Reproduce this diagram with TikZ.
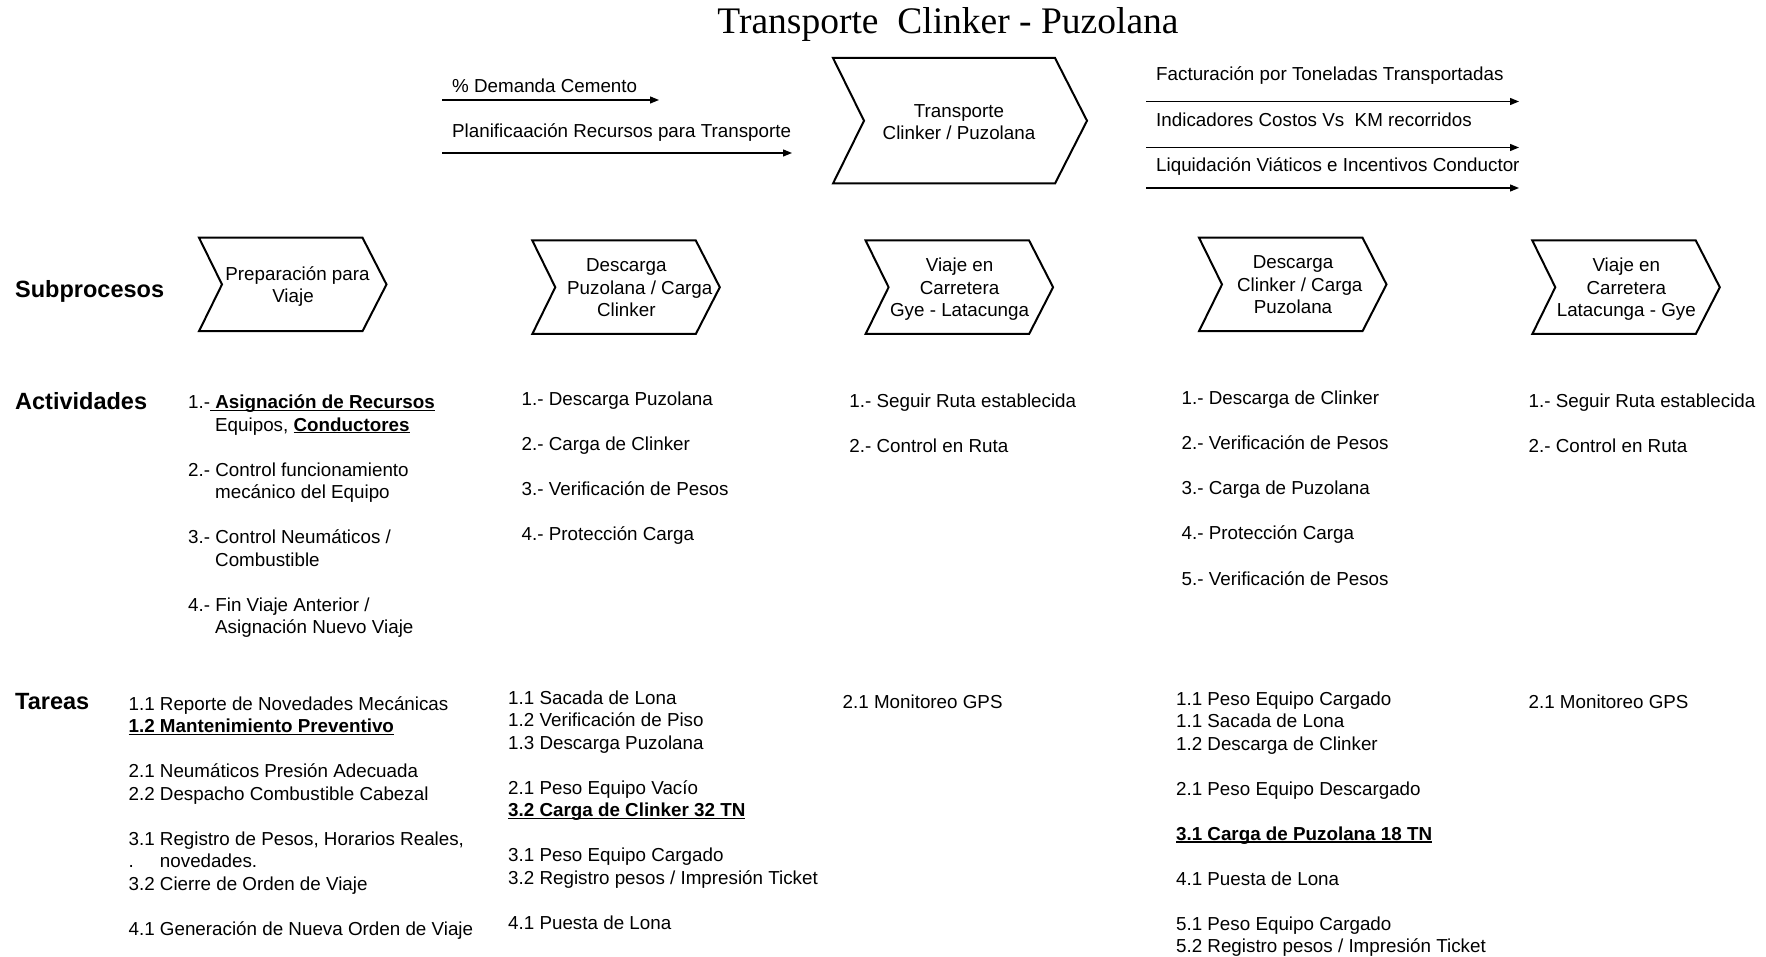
\documentclass[tikz,border=0pt]{standalone}
\usepackage{fontspec}
\setmainfont{Liberation Sans}
\newfontfamily\titlefont{Liberation Serif}
\usetikzlibrary{arrows.meta}

% bold text with a plain underline rule
\newsavebox\ulbox
\newcommand{\ulbold}[1]{\sbox\ulbox{\bfseries #1}\rlap{\rule[-0.13em]{\wd\ulbox}{0.075em}}\usebox\ulbox}

% chevron outline: left x, top y, width, height, notch depth, tip depth
\newcommand{\chevshape}[6]{%
  \draw[chevline] (#1,#2) -- (#1+#3-#6,#2) -- (#1+#3,#2+#4/2) -- (#1+#3-#6,#2+#4)
    -- (#1,#2+#4) -- (#1+#5,#2+#4/2) -- cycle;}

\begin{document}
\begin{tikzpicture}[x=1pt,y=-1pt,
  txt/.style={anchor=base west, inner sep=0pt, font=\fontsize{18.8}{22.5}\selectfont},
  rowlabel/.style={anchor=base west, inner sep=0pt, font=\fontsize{23.5}{28}\selectfont\bfseries},
  chevtext/.style={align=center, inner sep=0pt, font=\fontsize{18.8}{22.5}\selectfont,
    execute at begin node=\strut, execute at end node=\strut},
  chevline/.style={draw=black, line width=2pt, line join=miter},
  flow/.style={line width=1.2pt, -{Triangle[length=9pt,width=7pt]}}]

\path[use as bounding box] (0,0) rectangle (1766,957);

% title
\node[anchor=base, inner sep=0pt, font=\titlefont\fontsize{37.5}{45}\selectfont] (title) at (948,33.5)
  {Transporte\ \ Clinker - Puzolana};

% main process
\chevshape{833}{58}{254}{125.5}{31}{32}
\node[chevtext] (main) at (959,125.3) {Transporte\\Clinker / Puzolana};

% inputs
\coordinate (in1s) at (442,100);  \coordinate (in1e) at (659,100);
\coordinate (in2s) at (442,153);  \coordinate (in2e) at (792,153);
\draw[flow] (in1s) -- (in1e);
\draw[flow] (in2s) -- (in2e);
\node[txt] (in1t) at (452,93) {\% Demanda Cemento};
\node[txt] (in2t) at (452,137.5) {Planificaación Recursos para Transporte};

% outputs
\coordinate (out1s) at (1146,101.5); \coordinate (out1e) at (1519,101.5);
\coordinate (out2s) at (1146,147.5); \coordinate (out2e) at (1519,147.5);
\coordinate (out3s) at (1146,188);   \coordinate (out3e) at (1519,188);
\draw[flow] (out1s) -- (out1e);
\draw[flow] (out2s) -- (out2e);
\draw[flow] (out3s) -- (out3e);
\node[txt] (out1t) at (1156,81) {Facturación por Toneladas Transportadas};
\node[txt] (out2t) at (1156,127) {Indicadores Costos Vs\ \ KM recorridos};
\node[txt] (out3t) at (1156,172) {Liquidación Viáticos e Incentivos Conductor};

% row labels
\node[rowlabel] (lsub) at (15,298) {Subprocesos};
\node[rowlabel] (lact) at (15,409) {Actividades};
\node[rowlabel] (ltar) at (15,709) {Tareas};

% subprocesses
\chevshape{199}{237.7}{187.5}{93.5}{23}{24}
\node[chevtext] (s1) at (293,288) {\hspace*{9pt}Preparación para\\Viaje};
\chevshape{532.3}{240.5}{187.5}{93.5}{23}{24}
\node[chevtext] (s2) at (626.3,291.3) {Descarga\\\hspace*{27pt}Puzolana / Carga\\Clinker};
\chevshape{865.6}{240.5}{187.5}{93.5}{23}{24}
\node[chevtext] (s3) at (959.6,290.8) {Viaje en\\Carretera\\Gye - Latacunga};
\chevshape{1199}{237.7}{187.5}{93.5}{23}{24}
\node[chevtext] (s4) at (1293,288.2) {Descarga\\\hspace*{13.5pt}Clinker / Carga\\Puzolana};
\chevshape{1532.3}{240.5}{187.5}{93.5}{23}{24}
\node[chevtext] (s5) at (1626.3,290.8) {Viaje en\\Carretera\\Latacunga - Gye};

% activities
\foreach \x/\n/\t [count=\k] in {
  188/0/{1.-\ulbold{\ Asignación de Recursos}},
  215/1/{Equipos, \ulbold{Conductores}},
  188/3/{2.- Control funcionamiento},
  215/4/{mecánico del Equipo},
  188/6/{3.- Control Neumáticos /},
  215/7/{Combustible},
  188/9/{4.- Fin Viaje Anterior /},
  215/10/{Asignación Nuevo Viaje}}
  \node[txt] (a1-\k) at (\x,408.5+22.5*\n) {\t};

\foreach \n/\t [count=\k] in {
  0/{1.- Descarga Puzolana},
  2/{2.- Carga de Clinker},
  4/{3.- Verificación de Pesos},
  6/{4.- Protección Carga}}
  \node[txt] (a2-\k) at (521.5,405.8+22.5*\n) {\t};

\foreach \n/\t [count=\k] in {
  0/{1.- Seguir Ruta establecida},
  2/{2.- Control en Ruta}}
  \node[txt] (a3-\k) at (849.2,407.2+22.5*\n) {\t};

\foreach \n/\t [count=\k] in {
  0/{1.- Descarga de Clinker},
  2/{2.- Verificación de Pesos},
  4/{3.- Carga de Puzolana},
  6/{4.- Protección Carga},
  8/{5.- Verificación de Pesos}}
  \node[txt] (a4-\k) at (1181.5,404.6+22.55*\n) {\t};

\foreach \n/\t [count=\k] in {
  0/{1.- Seguir Ruta establecida},
  2/{2.- Control en Ruta}}
  \node[txt] (a5-\k) at (1528.4,407.2+22.5*\n) {\t};

% tasks
\foreach \n/\t [count=\k] in {
  0/{1.1 Reporte de Novedades Mecánicas},
  1/{\ulbold{1.2 Mantenimiento Preventivo}},
  3/{2.1 Neumáticos Presión Adecuada},
  4/{2.2 Despacho Combustible Cabezal},
  6/{3.1 Registro de Pesos, Horarios Reales,},
  7/{\rlap{.}\phantom{3.1}\ novedades.},
  8/{3.2 Cierre de Orden de Viaje},
  10/{4.1 Generación de Nueva Orden de Viaje}}
  \node[txt] (t1-\k) at (128.4,710+22.5*\n) {\t};

\foreach \n/\t [count=\k] in {
  0/{1.1 Sacada de Lona},
  1/{1.2 Verificación de Piso},
  2/{1.3 Descarga Puzolana},
  4/{2.1 Peso Equipo Vacío},
  5/{\ulbold{3.2 Carga de Clinker 32 TN}},
  7/{3.1 Peso Equipo Cargado},
  8/{3.2 Registro pesos / Impresión Ticket},
  10/{4.1 Puesta de Lona}}
  \node[txt] (t2-\k) at (508,704.4+22.5*\n) {\t};

\node[txt] (t3-1) at (842.5,708.9) {2.1 Monitoreo GPS};

\foreach \n/\t [count=\k] in {
  0/{1.1 Peso Equipo Cargado},
  1/{1.1 Sacada de Lona},
  2/{1.2 Descarga de Clinker},
  4/{2.1 Peso Equipo Descargado},
  6/{\ulbold{3.1 Carga de Puzolana 18 TN}},
  8/{4.1 Puesta de Lona},
  10/{5.1 Peso Equipo Cargado},
  11/{5.2 Registro pesos / Impresión Ticket}}
  \node[txt] (t4-\k) at (1175.9,705.3+22.5*\n) {\t};

\node[txt] (t5-1) at (1528.4,708.9) {2.1 Monitoreo GPS};

\end{tikzpicture}
\end{document}
